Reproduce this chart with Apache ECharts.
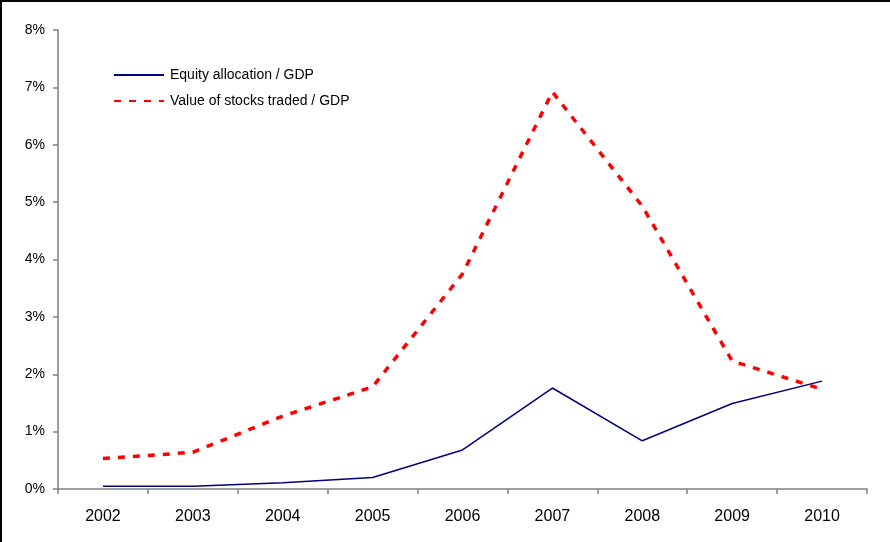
<!DOCTYPE html>
<html>
<head>
<meta charset="utf-8">
<script src="https://cdn.jsdelivr.net/npm/echarts@6/dist/echarts.min.js"></script>
<style>
  html, body { margin: 0; padding: 0; background: #fff; }
  #chart { width: 890px; height: 542px; }
</style>
</head>
<body>
<div id="chart"></div>
<script>
var years = ['2002', '2003', '2004', '2005', '2006', '2007', '2008', '2009', '2010'];
var equityAlloc = [0.05, 0.05, 0.11, 0.2, 0.68, 1.76, 0.84, 1.49, 1.88];
var stocksTraded = [0.53, 0.64, 1.27, 1.78, 3.75, 6.92, 4.93, 2.23, 1.74];

var chart = echarts.init(document.getElementById('chart'));
var font = 'Liberation Sans, Arial, sans-serif';

var option = {
    backgroundColor: '#fff',
    animation: false,
    graphic: [{
        type: 'line',
        shape: { x1: 0, y1: 1, x2: 890, y2: 1 },
        style: { stroke: '#000', lineWidth: 2 }
    }, {
        type: 'line',
        shape: { x1: 1, y1: 0, x2: 1, y2: 542 },
        style: { stroke: '#000', lineWidth: 2 }
    }],
    legend: {
        orient: 'vertical',
        left: 113,
        top: 68,
        padding: 0,
        itemWidth: 50,
        itemHeight: 14,
        itemGap: 12,
        itemStyle: { opacity: 0 },
        textStyle: { fontFamily: font, fontSize: 14, color: '#000', padding: [0, 0, 0, 1] },
        data: ['Equity allocation / GDP', 'Value of stocks traded / GDP']
    },
    grid: {
        left: 58,
        right: 23,
        top: 30,
        bottom: 53,
        containLabel: false
    },
    xAxis: {
        type: 'category',
        boundaryGap: true,
        data: years,
        axisLine: { lineStyle: { color: '#808080', width: 1.5 } },
        axisTick: { show: true, length: 5, lineStyle: { color: '#808080', width: 1.5 } },
        axisLabel: { color: '#000', fontFamily: font, fontSize: 16, margin: 20 }
    },
    yAxis: {
        type: 'value',
        min: 0,
        max: 8,
        interval: 1,
        axisLine: { show: true, lineStyle: { color: '#808080', width: 1.5 } },
        axisTick: { show: true, length: 5, lineStyle: { color: '#808080', width: 1.5 } },
        splitLine: { show: false },
        axisLabel: {
            color: '#000',
            fontFamily: font,
            fontSize: 14,
            margin: 13,
            formatter: function (v) { return v + '%'; }
        }
    },
    series: [{
        name: 'Equity allocation / GDP',
        type: 'line',
        symbol: 'none',
        color: '#000080',
        lineStyle: { color: '#000080', width: 1.5 },
        data: equityAlloc
    }, {
        name: 'Value of stocks traded / GDP',
        type: 'line',
        symbol: 'none',
        color: '#ff0000',
        lineStyle: { color: '#ff0000', width: 3.5, type: [7, 8] },
        data: stocksTraded
    }]
};

chart.setOption(option);
</script>
</body>
</html>
